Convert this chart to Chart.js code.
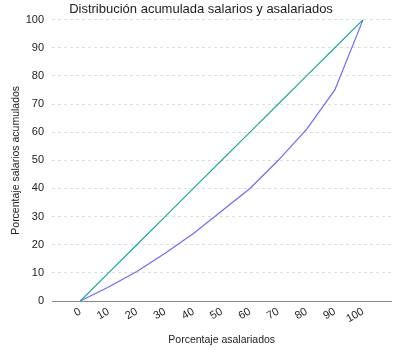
<!DOCTYPE html>
<html>
<head>
<meta charset="utf-8">
<script src="https://cdn.jsdelivr.net/npm/chart.js@4.4.1/dist/chart.umd.min.js"></script>
<style>
    html, body { margin: 0; padding: 0; background: #fff; }
    #wrap { width: 400px; height: 350px; }
</style>
</head>
<body>
<div id="wrap"><canvas id="lorenz-chart"></canvas></div>
<script>
// Percent of wage earners (x) and cumulative salaries (y)
let asalariados = [0, 10, 20, 30, 40, 50, 60, 70, 80, 90, 100];
let igualdad = [0, 10, 20, 30, 40, 50, 60, 70, 80, 90, 100];
let salarios = [0, 5, 10.5, 17, 24, 32, 40, 50, 61, 75, 100];

let font = "'Liberation Sans', Arial, sans-serif";
let color = "#222";

function toPoints(xs, ys) {
    return xs.map((x, i) => ({ x: x, y: ys[i] }));
}

const ctx = document.getElementById("lorenz-chart").getContext("2d");
const lorenzChart = new Chart(ctx, {
    type: "line",
    data: {
        datasets: [
            {
                label: "Igualdad",
                data: toPoints(asalariados, igualdad),
                borderColor: "#1aa9a6",
                borderWidth: 1.2,
                pointRadius: 0,
                fill: false,
            },
            {
                label: "Salarios",
                data: toPoints(asalariados, salarios),
                borderColor: "#6b6bff",
                borderWidth: 1.2,
                pointRadius: 0,
                fill: false,
            },
        ],
    },
    options: {
        responsive: true,
        maintainAspectRatio: false,
        animation: false,
        layout: { padding: { left: 10, right: 8, top: 0, bottom: 0 } },
        plugins: {
            legend: { display: false },
            tooltip: { enabled: false },
            title: {
                display: true,
                text: "Distribución acumulada salarios y asalariados",
                color: color,
                font: { family: font, size: 13, weight: "normal" },
                padding: { top: 2, bottom: 2 },
            },
        },
        scales: {
            x: {
                type: "linear",
                min: -10,
                max: 110,
                grid: { display: false, tickLength: 2 },
                border: { display: true, color: "#888" },
                ticks: {
                    stepSize: 10,
                    color: color,
                    padding: 2,
                    font: { family: font, size: 11 },
                    minRotation: 30,
                    maxRotation: 30,
                    callback: (v) => (v >= 0 && v <= 100 ? v : ""),
                },
                title: {
                    display: true,
                    text: "Porcentaje asalariados",
                    color: color,
                    font: { family: font, size: 10.5 },
                    padding: { top: 8 },
                },
                afterFit: (scale) => { scale.height = 49; },
            },
            y: {
                min: 0,
                max: 100,
                grid: {
                    color: "#dddddd",
                    tickLength: 0,
                },
                border: { display: false, dash: [3, 3] },
                ticks: {
                    stepSize: 10,
                    color: color,
                    padding: 8,
                    font: { family: font, size: 11 },
                },
                title: {
                    display: true,
                    text: "Porcentaje salarios acumulados",
                    color: color,
                    font: { family: font, size: 10.5 },
                    padding: { top: 0, bottom: 2 },
                },
                afterFit: (scale) => { scale.width = 42; },
            },
        },
    },
});
</script>
</body>
</html>
